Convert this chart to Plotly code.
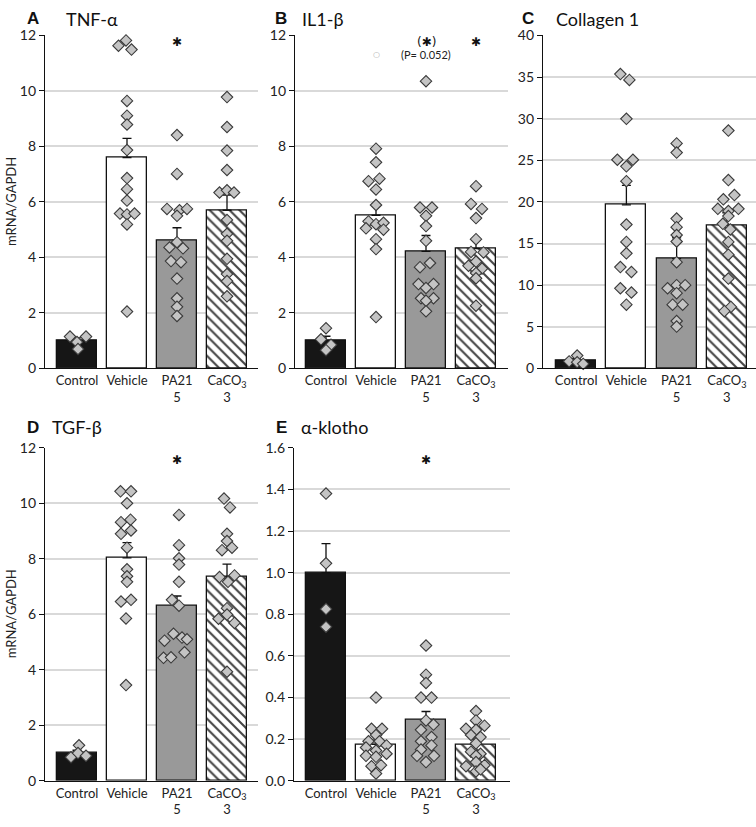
import plotly.graph_objects as go

W, H = 756, 827

# ---------------- data ----------------
categories = ["Control", "Vehicle", "PA21<br>5", "CaCO<sub>3</sub><br>3"]

# A  TNF-alpha
tnf_mean = [1.0, 7.6, 4.62, 5.7]
tnf_err = [0.1, 0.69, 0.45, 0.55]
tnf_ctrl = [1.15, 0.95, 1.15, 0.7]
tnf_ctrl_dx = [-0.14, 0.0, 0.18, 0.02]
tnf_veh = [11.63, 11.82, 11.49, 9.64, 9.11, 8.79, 7.87, 6.86, 6.46, 6.05, 5.58, 5.55, 5.58, 5.19, 2.05]
tnf_veh_dx = [-0.17, -0.02, 0.09, 0, 0, 0, 0, 0, 0, 0, -0.14, 0, 0.15, 0, 0]
tnf_pa = [8.41, 7.01, 5.75, 5.7, 5.75, 5.5, 4.55, 4.36, 4.33, 3.87, 3.83, 3.24, 2.53, 2.22, 1.89]
tnf_pa_dx = [0, 0, -0.2, 0.05, 0.2, 0, 0, -0.15, 0.12, -0.12, 0.08, 0, 0, 0, 0]
tnf_ca = [9.78, 8.7, 7.85, 7.15, 6.34, 6.42, 6.34, 5.35, 4.85, 4.6, 3.95, 3.4, 3.15, 2.6]
tnf_ca_dx = [0, 0, 0, 0, -0.15, 0, 0.14, 0, 0, 0, 0, 0, 0, 0]

# B  IL1-beta
il_mean = [1.0, 5.52, 4.22, 4.32]
il_err = [0.16, 0.38, 0.57, 0.3]
il_ctrl = [1.45, 1.05, 0.85, 0.66]
il_ctrl_dx = [0, -0.1, 0.1, 0]
il_veh = [7.92, 7.43, 6.75, 6.84, 6.45, 5.89, 5.3, 5.2, 5.25, 5.05, 5.0, 4.66, 4.3, 1.85]
il_veh_dx = [0, 0, -0.15, 0.07, 0, 0, -0.15, 0, 0.15, -0.2, 0.15, 0, 0, 0]
il_pa = [10.35, 5.8, 5.8, 5.5, 5.13, 4.6, 3.65, 3.8, 3.04, 3.04, 2.9, 2.53, 2.53, 2.44, 2.06]
il_pa_dx = [0, -0.12, 0.12, 0, 0, 0, -0.12, 0.08, -0.15, 0.15, 0, -0.1, 0.15, 0, 0]
il_ca = [6.57, 5.93, 5.75, 5.42, 4.66, 4.2, 4.18, 3.85, 3.7, 3.6, 3.44, 3.25, 2.26]
il_ca_dx = [0, -0.1, 0.12, 0, 0, -0.1, 0.15, 0, -0.15, 0.12, 0, 0, 0]

# C  Collagen 1
col_mean = [1.0, 19.65, 13.2, 17.2]
col_err = [0.2, 2.35, 2.5, 1.5]
col_ctrl = [1.55, 0.85, 0.75, 0.55]
col_ctrl_dx = [0.02, -0.14, 0.02, 0.14]
col_veh = [35.36, 34.66, 29.98, 25.07, 25.07, 24.28, 22.5, 17.29, 15.2, 13.83, 12.18, 11.59, 9.63, 9.12, 7.66]
col_veh_dx = [-0.12, 0.06, 0, -0.18, 0.13, 0, 0, 0, 0, 0, -0.12, 0.1, -0.12, 0.1, 0]
col_pa = [27.03, 25.93, 18.0, 16.97, 16.03, 15.25, 12.77, 9.63, 10.0, 10.0, 9.04, 7.66, 7.66, 5.7, 5.03]
col_pa_dx = [0, 0, 0, 0, 0, 0, 0, -0.18, 0, 0.17, 0, -0.08, 0.12, 0, 0]
col_ca = [28.57, 22.63, 20.83, 20.31, 19.17, 18.9, 19.17, 18.3, 17.37, 16.7, 15.2, 13.67, 10.8, 7.39, 6.88]
col_ca_dx = [0.03, 0.03, 0.15, -0.07, -0.18, 0.03, 0.23, 0.03, -0.08, 0.07, 0.03, 0.03, 0.03, 0.08, -0.05]

# D  TGF-beta
tgf_mean = [1.0, 8.03, 6.31, 7.36]
tgf_err = [0.1, 0.55, 0.35, 0.45]
tgf_ctrl = [1.28, 0.85, 1.0, 0.9]
tgf_ctrl_dx = [0.04, -0.12, 0.02, 0.18]
tgf_veh = [10.43, 10.43, 10.0, 9.32, 9.41, 9.02, 8.9, 8.4, 7.62, 7.37, 7.17, 6.46, 6.52, 5.85, 3.45]
tgf_veh_dx = [-0.13, 0.08, 0, -0.12, 0.07, 0.08, -0.12, 0, 0, 0, 0, -0.12, 0.08, -0.02, -0.02]
tgf_pa = [9.58, 8.49, 8.02, 7.79, 7.17, 6.52, 6.31, 5.3, 5.05, 5.16, 5.1, 4.43, 4.45, 4.63]
tgf_pa_dx = [0.04, 0.04, 0.04, 0.04, 0.04, -0.1, 0.04, -0.07, -0.25, 0.1, 0.2, -0.27, -0.12, 0.15]
tgf_ca = [10.17, 9.85, 8.9, 8.64, 8.31, 8.4, 7.34, 7.4, 7.17, 6.22, 5.99, 5.84, 5.69, 3.93]
tgf_ca_dx = [-0.06, 0.06, 0.0, 0.0, -0.1, 0.1, -0.15, 0.15, 0.02, 0.0, 0.0, -0.17, 0.15, 0.0]

# E  alpha-klotho
kl_mean = [1.0, 0.175, 0.293, 0.175]
kl_err = [0.14, 0.02, 0.04, 0.025]
kl_ctrl = [1.38, 1.045, 0.825, 0.74]
kl_ctrl_dx = [0, 0, 0, 0]
kl_veh = [0.40, 0.25, 0.25, 0.22, 0.19, 0.19, 0.16, 0.17, 0.145, 0.12, 0.13, 0.115, 0.07, 0.075, 0.035]
kl_veh_dx = [0, -0.09, 0.12, 0, -0.15, 0.07, -0.2, 0.21, 0, -0.2, 0.21, 0, -0.09, 0.1, 0]
kl_pa = [0.65, 0.51, 0.47, 0.40, 0.40, 0.29, 0.27, 0.245, 0.21, 0.19, 0.17, 0.15, 0.12, 0.12, 0.09]
kl_pa_dx = [0, 0, 0, -0.1, 0.11, 0, 0.15, -0.1, 0.11, -0.1, 0.11, -0.1, -0.18, 0.16, 0]
kl_ca = [0.335, 0.29, 0.25, 0.265, 0.245, 0.22, 0.21, 0.18, 0.14, 0.13, 0.12, 0.07, 0.09, 0.075, 0.045, 0.055]
kl_ca_dx = [0, 0, -0.2, 0.17, 0, -0.1, 0.09, 0, -0.1, 0.09, 0, -0.2, 0, 0.17, 0, 0.09]

# significance marks: (category index, y value, text)
tnf_sig = [(2, 11.75, "✱")]
il_sig = [(2, 11.78, "(✱)"), (3, 11.75, "✱")]
col_sig = []
tgf_sig = [(2, 11.55, "✱")]
kl_sig = [(2, 1.54, "✱")]
il_note = (2, 11.3, "(P= 0.052)")
il_circle = (1, 11.3, "○")

panels = [
    dict(key="A", title="TNF-α", mean=tnf_mean, err=tnf_err,
         pts=[(tnf_ctrl, tnf_ctrl_dx), (tnf_veh, tnf_veh_dx), (tnf_pa, tnf_pa_dx), (tnf_ca, tnf_ca_dx)],
         sig=tnf_sig, yr=[0, 12], dtick=2, fmt="d",
         xpx=(45, 258), ypx=(27, 367), xr=[-0.64, 3.62], letter_x=33, title_x=65, ty=10, ylab=True),
    dict(key="B", title="IL1-β", mean=il_mean, err=il_err,
         pts=[(il_ctrl, il_ctrl_dx), (il_veh, il_veh_dx), (il_pa, il_pa_dx), (il_ca, il_ca_dx)],
         sig=il_sig, yr=[0, 12], dtick=2, fmt="d",
         xpx=(295, 508), ypx=(27, 367), xr=[-0.62, 3.64], letter_x=281, title_x=301, ty=10, ylab=False),
    dict(key="C", title="Collagen 1", mean=col_mean, err=col_err,
         pts=[(col_ctrl, col_ctrl_dx), (col_veh, col_veh_dx), (col_pa, col_pa_dx), (col_ca, col_ca_dx)],
         sig=col_sig, yr=[0, 40], dtick=5, fmt="d",
         xpx=(543, 756), ypx=(27, 367), xr=[-0.66, 3.58], letter_x=528, title_x=555, ty=10, ylab=False),
    dict(key="D", title="TGF-β", mean=tgf_mean, err=tgf_err,
         pts=[(tgf_ctrl, tgf_ctrl_dx), (tgf_veh, tgf_veh_dx), (tgf_pa, tgf_pa_dx), (tgf_ca, tgf_ca_dx)],
         sig=tgf_sig, yr=[0, 12], dtick=2, fmt="d",
         xpx=(45, 258), ypx=(448, 788), xr=[-0.64, 3.62], letter_x=33, title_x=51, ty=427, ylab=True),
    dict(key="E", title="α-klotho", mean=kl_mean, err=kl_err,
         pts=[(kl_ctrl, kl_ctrl_dx), (kl_veh, kl_veh_dx), (kl_pa, kl_pa_dx), (kl_ca, kl_ca_dx)],
         sig=kl_sig, yr=[0, 1.6], dtick=0.2, fmt=".1f",
         xpx=(294, 510), ypx=(448, 788), xr=[-0.64, 3.68], letter_x=281, title_x=300, ty=427, ylab=False),
]

bar_fill = ["#161616", "#ffffff", "#999999", "#ffffff"]
bar_pattern = ["", "", "", "\\"]

FONT = "Lato, 'Open Sans', sans-serif"
fig = go.Figure()
annotations = []

for i, p in enumerate(panels):
    n = "" if i == 0 else str(i + 1)
    xa, ya = "x" + n, "y" + n
    xs = [0, 1, 2, 3]
    fig.add_trace(go.Bar(
        x=xs, y=p["mean"], width=0.8, xaxis=xa, yaxis=ya,
        marker=dict(color=bar_fill, line=dict(color="#111111", width=1.3),
                    pattern=dict(shape=bar_pattern, fgcolor="#111111", fgopacity=1,
                                 size=7, solidity=0.3)),
        error_y=dict(type="data", symmetric=False, array=p["err"],
                     arrayminus=[0, 0, 0, 0], color="#111111", thickness=1.3, width=4.5),
        showlegend=False, hoverinfo="skip"))
    for gi, (vals, dx) in enumerate(p["pts"]):
        fig.add_trace(go.Scatter(
            x=[gi + d for d in dx], y=vals, mode="markers", xaxis=xa, yaxis=ya,
            marker=dict(symbol="diamond", size=8.8, color="#c4c4c4",
                        line=dict(color="#3a3a3a", width=1.1)),
            showlegend=False, hoverinfo="skip", cliponaxis=False))
    x0, x1 = p["xpx"]
    y0, y1 = p["ypx"]
    xd = [x0 / W, x1 / W]
    yd = [1 - y1 / H, 1 - y0 / H]
    fig.layout["xaxis" + n] = dict(
        domain=xd, range=p["xr"], anchor=ya, tickvals=xs, ticktext=categories,
        showline=True, linecolor="#111111", linewidth=1.3, ticks="", showgrid=False,
        zeroline=False, tickfont=dict(family=FONT, size=13, color="#222222"), fixedrange=True)
    fig.layout["yaxis" + n] = dict(
        domain=yd, range=p["yr"], anchor=xa, dtick=p["dtick"], tick0=0, tickformat=p["fmt"],
        showline=True, linecolor="#111111", linewidth=1.3, ticks="outside", ticklen=5,
        tickcolor="#111111", tickwidth=1.2, showgrid=True, gridcolor="#d9d9d9", gridwidth=1.5,
        zeroline=False, tickfont=dict(family=FONT, size=14, color="#222222"), fixedrange=True)
    # panel letter and title
    annotations.append(dict(text="<b>%s</b>" % p["key"], x=p["letter_x"] / W, y=1 - p["ty"] / H,
                            xref="paper", yref="paper", xanchor="center", yanchor="middle",
                            showarrow=False, borderpad=0,
                            font=dict(family="Liberation Sans, Arial", size=17, color="#111111")))
    annotations.append(dict(text=p["title"], x=p["title_x"] / W, y=1 - p["ty"] / H,
                            xref="paper", yref="paper", xanchor="left", yanchor="middle",
                            showarrow=False, borderpad=0,
                            font=dict(family=FONT, size=18, color="#111111")))
    if p["ylab"]:
        annotations.append(dict(text="mRNA/GAPDH", x=11 / W, y=1 - (y0 + y1) / 2 / H,
                                xref="paper", yref="paper", xanchor="center", yanchor="middle",
                                textangle=-90, showarrow=False,
                                font=dict(family=FONT, size=13, color="#222222")))
    for (cx, cy, txt) in p["sig"]:
        annotations.append(dict(text=txt, x=cx, y=cy, xref=xa, yref=ya, showarrow=False,
                                xanchor="center", yanchor="middle",
                                font=dict(family="DejaVu Sans", size=12, color="#111111")))
    if p["key"] == "B":
        annotations.append(dict(text=il_note[2], x=il_note[0], y=il_note[1], xref=xa, yref=ya,
                                showarrow=False, xanchor="center", yanchor="middle",
                                font=dict(family=FONT, size=11, color="#222222")))
        annotations.append(dict(text=il_circle[2], x=il_circle[0], y=il_circle[1], xref=xa, yref=ya,
                                showarrow=False, xanchor="center", yanchor="middle",
                                font=dict(family="DejaVu Sans", size=8, color="#b0b0b0")))

fig.update_layout(autosize=True, margin=dict(l=0, r=0, t=0, b=0),
                  paper_bgcolor="white", plot_bgcolor="white", annotations=annotations,
                  bargap=0, font=dict(family=FONT))
fig.write_html("out.html",
               config={"displayModeBar": False, "responsive": False},
               default_width="%dpx" % W,
               default_height="%dpx; position:absolute; left:0; top:0" % H,
               post_script="document.body.style.margin='0';")
